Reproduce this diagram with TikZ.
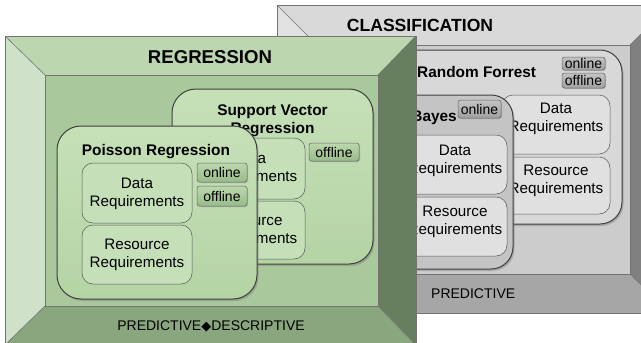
\documentclass[tikz,border=0pt]{standalone}
\usepackage{fontspec}
\setmainfont{Liberation Sans}
\newfontfamily\dejavu{DejaVu Sans}
\usetikzlibrary{shadows}
\definecolor{gTop}{HTML}{BCD6B0}
\definecolor{gLeft}{HTML}{CFE1C8}
\definecolor{gFace}{HTML}{A9C89B}
\definecolor{gRight}{HTML}{677F5E}
\definecolor{gBot}{HTML}{8AA67F}
\definecolor{cTop}{HTML}{D9D9D9}
\definecolor{cFace}{HTML}{CCCCCC}
\definecolor{cRight}{HTML}{808080}
\definecolor{cBot}{HTML}{A6A6A6}
\definecolor{gNodeT}{HTML}{C6E0B8}
\definecolor{gNodeB}{HTML}{B4D4A4}
\definecolor{gSub}{HTML}{C5DFB8}
\definecolor{gBtnT}{HTML}{BCD8AE}
\definecolor{gBtnB}{HTML}{98BA8A}
\definecolor{cRF}{HTML}{D8D8D8}
\definecolor{cBayes}{HTML}{C4C4C4}
\definecolor{cSub}{HTML}{E0E0E0}
\definecolor{cBtnT}{HTML}{C4C4C4}
\definecolor{cBtnB}{HTML}{A0A0A0}
\tikzset{
  frameline/.style={draw=black!55, line width=0.6pt},
  bigbox/.style={draw=black!75, line width=1pt, rounded corners=24pt,
    drop shadow={opacity=0.45, shadow xshift=1.5pt, shadow yshift=-2pt}},
  subbox/.style={draw=black!65, line width=0.5pt, rounded corners=11pt},
  btnbox/.style={draw=black!60, line width=0.5pt, rounded corners=2.5pt,
    drop shadow={opacity=0.4, shadow xshift=1pt, shadow yshift=-1pt}},
  lbl/.style={font=\fontsize{15.2}{18.5}\selectfont, align=center, inner sep=0pt},
  ttl/.style={font=\fontsize{15.4}{18}\selectfont\bfseries, align=center, inner sep=0pt},
  btntxt/.style={font=\fontsize{14}{16}\selectfont, inner sep=0pt},
  bigttl/.style={font=\bfseries, inner sep=0pt, anchor=base},
}
\begin{document}
\begin{tikzpicture}[x=1pt,y=-1pt]
\useasboundingbox (0,0) rectangle (641,343);
\clip (0,0) rectangle (641,343);
\fill[white] (0,0) rectangle (641,343);

% ---------- CLASSIFICATION frame ----------
\fill[cTop] (277,5) -- (670,5) -- (630,45) -- (317,45) -- cycle;
\fill[cTop!80!white] (277,5) -- (317,45) -- (317,274) -- (277,313) -- cycle;
\fill[cRight] (670,5) -- (670,313) -- (630,274) -- (630,45) -- cycle;
\fill[cBot] (277,313) -- (670,313) -- (630,274) -- (317,274) -- cycle;
\fill[cFace] (317,45) rectangle (630,274);
\draw[frameline] (277,5) rectangle (670,313);
\draw[frameline] (317,45) rectangle (630,274);
\draw[frameline] (277,5) -- (317,45) (670,5) -- (630,45) (670,313) -- (630,274) (277,313) -- (317,274);
\node[bigttl, font=\fontsize{17.6}{20}\selectfont\bfseries] (cls) at (420,31) {CLASSIFICATION};
\node[font=\fontsize{14}{16}\selectfont, inner sep=0pt, anchor=base west] (pred) at (431,298) {PREDICTIVE};

% Random Forrest
\path[bigbox, fill=cRF, rounded corners=22pt] (380,50) rectangle (622,224);
\node[ttl, anchor=base west] (rf) at (417,77) {Random Forrest};
\path[btnbox, top color=cBtnT, bottom color=cBtnB] (562,57) rectangle (605,70);
\node[btntxt] (rfon) at (583.5,63.5) {online};
\path[btnbox, top color=cBtnT, bottom color=cBtnB] (562,73) rectangle (605,88);
\node[btntxt] (rfoff) at (583.5,80.5) {offline};
\path[subbox, fill=cSub] (502,95) rectangle (610,154);
\node[lbl] (rfdata) at (556,119) {Data\\Requirements};
\path[subbox, fill=cSub] (502,157) rectangle (610,214);
\node[lbl] (rfres) at (556,181) {Resource\\Requirements};

% Bayes
\path[bigbox, fill=cBayes, rounded corners=22pt] (380,95) rectangle (513,269);
\node[ttl, anchor=base east] (bay) at (457,121) {Bayes};
\path[btnbox, top color=cBtnT, bottom color=cBtnB] (458,100) rectangle (501,118);
\node[btntxt] (bayon) at (479.5,109) {online};
\path[subbox, fill=cSub] (400,135) rectangle (507,194);
\node[lbl] (baydata) at (455,161) {Data\\Requirements};
\path[subbox, fill=cSub] (400,197) rectangle (507,256);
\node[lbl] (bayres) at (455,222) {Resource\\Requirements};

% ---------- REGRESSION frame ----------
\fill[gTop] (5,36) -- (416,36) -- (378,75) -- (45,75) -- cycle;
\fill[gLeft] (5,36) -- (45,75) -- (45,306) -- (5,345) -- cycle;
\fill[gRight] (416,36) -- (416,345) -- (378,306) -- (378,75) -- cycle;
\fill[gBot] (5,345) -- (416,345) -- (378,306) -- (45,306) -- cycle;
\fill[gFace] (45,75) rectangle (378,306);
\draw[frameline] (5,36) rectangle (416,345);
\draw[frameline] (45,75) rectangle (378,306);
\draw[frameline] (5,36) -- (45,75) (416,36) -- (378,75) (416,345) -- (378,306) (5,345) -- (45,306);
\node[bigttl, font=\fontsize{18.6}{20}\selectfont\bfseries] (reg) at (210,63) {REGRESSION};
\node[font=\fontsize{14}{16}\selectfont, inner sep=0pt, anchor=base] (pd) at (211,330) {PREDICTIVE{\dejavu\fontsize{13}{16}\selectfont ◆}DESCRIPTIVE};

% Support Vector Regression
\path[bigbox, top color=gNodeT, bottom color=gNodeB] (172,89) rectangle (373,264);
\node[ttl] (svr) at (272.5,121) {Support Vector\\Regression};
\path[btnbox, top color=gBtnT, bottom color=gBtnB] (309,143) rectangle (359,161);
\node[btntxt] (svroff) at (334,152) {offline};
\path[subbox, fill=gSub] (195,138) rectangle (305,199);
\node[lbl] (svrdata) at (250,169) {Data\\Requirements};
\path[subbox, fill=gSub] (195,201) rectangle (305,259);
\node[lbl] (svrres) at (250,231) {Resource\\Requirements};

% Poisson Regression
\path[bigbox, top color=gNodeT, bottom color=gNodeB] (57,126) rectangle (257,299);
\node[ttl, anchor=base] (poi) at (156,155) {Poisson Regression};
\path[btnbox, top color=gBtnT, bottom color=gBtnB] (197,163) rectangle (247,182);
\node[btntxt] (poion) at (222,172.5) {online};
\path[btnbox, top color=gBtnT, bottom color=gBtnB] (197,186) rectangle (247,206);
\node[btntxt] (poioff) at (222,196) {offline};
\path[subbox, fill=gSub] (82,163) rectangle (192,223);
\node[lbl] (poidata) at (137,194) {Data\\Requirements};
\path[subbox, fill=gSub] (82,225) rectangle (192,284);
\node[lbl] (poires) at (137,255) {Resource\\Requirements};
\end{tikzpicture}
\end{document}
